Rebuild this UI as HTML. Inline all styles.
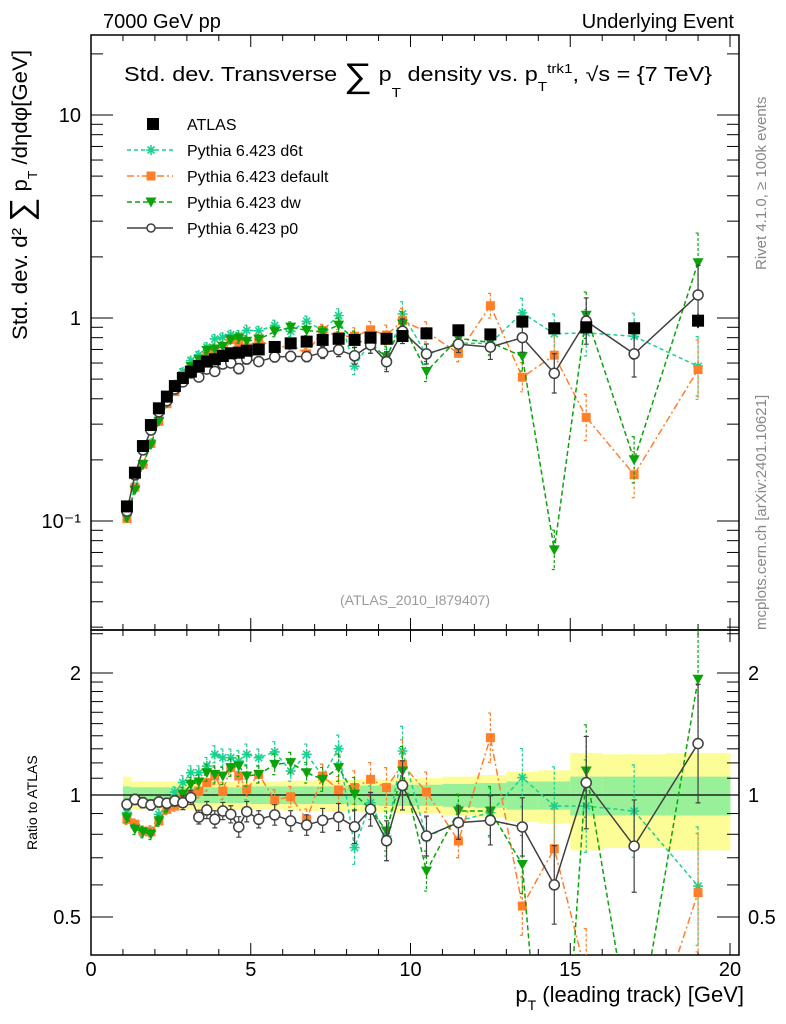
<!DOCTYPE html>
<html><head><meta charset="utf-8">
<style>
html,body{margin:0;padding:0;background:#fff;width:786px;height:1024px;overflow:hidden;}
svg{display:block;font-family:"Liberation Sans",sans-serif;}
</style></head>
<body>
<svg id="chart" width="786" height="1024" viewBox="0 0 786 1024" xmlns="http://www.w3.org/2000/svg">
<defs>
<clipPath id="clipMain"><rect x="91" y="35" width="648" height="595"/></clipPath>
<clipPath id="clipRatio"><rect x="91" y="630" width="648" height="325"/></clipPath>
</defs>
<text x="103" y="28" font-size="20">7000 GeV pp</text>
<text x="734" y="28" font-size="20" text-anchor="end">Underlying Event</text>
<text x="124" y="81" font-size="20" textLength="588" lengthAdjust="spacingAndGlyphs">Std. dev. Transverse <tspan font-size="34" dy="6">∑</tspan><tspan dy="-6"> p</tspan><tspan font-size="13" dy="16">T</tspan><tspan dy="-16"> density vs. p</tspan><tspan font-size="13" dy="10">T</tspan><tspan font-size="13" dy="-18">trk1</tspan><tspan dy="8">, √s = {7 TeV}</tspan></text>
<text transform="translate(27,340) rotate(-90)" font-size="21" textLength="290" lengthAdjust="spacingAndGlyphs">Std. dev. d² <tspan font-size="32" dy="5">∑</tspan><tspan dy="-5"> p</tspan><tspan font-size="13" dy="10">T</tspan><tspan dy="-10"> /dηdφ[GeV]</tspan></text>
<text transform="translate(37,850) rotate(-90)" font-size="14">Ratio to ATLAS</text>
<text transform="translate(766,270) rotate(-90)" font-size="15" fill="#888">Rivet 4.1.0, ≥ 100k events</text>
<text transform="translate(766,630) rotate(-90)" font-size="15" fill="#888">mcplots.cern.ch [arXiv:2401.10621]</text>
<text x="415" y="605" font-size="14" fill="#999" text-anchor="middle">(ATLAS_2010_I879407)</text>
<text x="744" y="1002" font-size="22" text-anchor="end">p<tspan font-size="14" dy="8">T</tspan><tspan dy="-8"> (leading track) [GeV]</tspan></text>
<g id="bands" clip-path="url(#clipRatio)"></g>
<g id="axes"></g>
<g id="mainMarks" clip-path="url(#clipMain)"></g>
<g id="ratioMarks" clip-path="url(#clipRatio)"></g>
<g id="legend"></g>
</svg>
<script>
// ---- data ----
const xCenters=[1.125,1.375,1.625,1.875,2.125,2.375,2.625,2.875,3.125,3.375,3.625,3.875,4.125,4.375,4.625,4.875,5.25,5.75,6.25,6.75,7.25,7.75,8.25,8.75,9.25,9.75,10.5,11.5,12.5,13.5,14.5,15.5,17,19];
const binEdges=[1,1.25,1.5,1.75,2,2.25,2.5,2.75,3,3.25,3.5,3.75,4,4.25,4.5,4.75,5,5.5,6,6.5,7,7.5,8,8.5,9,9.5,10,11,12,13,14,15,16,18,20];
const atlas=[0.118,0.173,0.234,0.297,0.359,0.41,0.462,0.506,0.544,0.58,0.61,0.626,0.65,0.67,0.675,0.69,0.70,0.72,0.75,0.765,0.78,0.79,0.78,0.80,0.79,0.815,0.84,0.87,0.83,0.96,0.89,0.90,0.89,0.97];
const atlasTotErr=[0.11,0.08,0.08,0.08,0.08,0.08,0.08,0.08,0.08,0.08,0.08,0.08,0.08,0.08,0.08,0.08,0.08,0.08,0.085,0.085,0.09,0.09,0.09,0.095,0.095,0.1,0.1,0.11,0.12,0.14,0.15,0.27,0.26,0.27];
const atlasStatErr=[0.05,0.045,0.045,0.045,0.045,0.045,0.045,0.045,0.045,0.045,0.045,0.045,0.045,0.045,0.045,0.045,0.05,0.05,0.05,0.05,0.05,0.05,0.055,0.055,0.06,0.06,0.06,0.065,0.07,0.08,0.08,0.11,0.11,0.11];
const d6tRatio=[0.905,0.847,0.807,0.815,0.896,0.939,1.017,1.073,1.135,1.135,1.179,1.26,1.236,1.236,1.213,1.26,1.236,1.277,1.146,1.26,1.114,1.301,0.742,0.957,0.792,1.284,0.785,0.863,0.905,1.104,0.939,0.939,0.913,0.596];
const defaultRatio=[0.871,0.847,0.815,0.811,0.863,0.922,0.939,0.994,1.01,1.023,1.073,1.114,1.023,1.168,1.114,1.033,1.124,0.972,0.99,0.871,1.114,1.029,1.043,1.093,1.043,1.19,1.017,0.77,1.385,0.532,0.737,0.36,0.19,0.574];
const dwRatio=[0.879,0.823,0.811,0.8,0.863,0.93,0.967,1.004,1.062,1.077,1.135,1.124,1.114,1.168,1.179,1.114,1.124,1.19,1.202,1.135,1.093,1.168,1.004,0.922,0.815,1.146,0.649,0.913,0.913,0.674,0.081,1.146,0.225,1.93];
const p0Ratio=[0.948,0.975,0.957,0.945,0.961,0.954,0.967,0.957,0.985,0.882,0.918,0.871,0.913,0.896,0.834,0.91,0.871,0.893,0.863,0.843,0.866,0.882,0.835,0.922,0.771,1.056,0.792,0.855,0.866,0.834,0.60,1.073,0.748,1.339];
const mcErr=[0.03,0.03,0.03,0.03,0.03,0.03,0.03,0.04,0.04,0.04,0.05,0.05,0.05,0.05,0.06,0.06,0.05,0.06,0.06,0.06,0.07,0.08,0.1,0.1,0.12,0.15,0.12,0.1,0.15,0.18,0.25,0.3,0.3,0.4];
const xTicksMajor=[0,5,10,15,20];
const mainYMajor=[0.1,1,10];
const mainYLabels=["10\u207B\u00B9","1","10"];
const ratioYMajor=[0.5,1,2];
const ratioYLabels=["0.5","1","2"];

// ---- scales ----
const X0=91,XR=739,MT=35,MB=630,RB=955;
function sx(v){return X0+v*31.95;}
function sy(v){return 318-203*Math.log10(v);}
function ry(r){return 795-122*Math.log2(r);}
const NS="http://www.w3.org/2000/svg";
function mk(tag,attrs,parent){const e=document.createElementNS(NS,tag);for(const k in attrs)e.setAttribute(k,attrs[k]);parent.appendChild(e);return e;}
const axes=document.getElementById('axes');
const bands=document.getElementById('bands');
const mainG=document.getElementById('mainMarks');
const ratioG=document.getElementById('ratioMarks');
const legG=document.getElementById('legend');

// bands
for(let i=0;i<xCenters.length;i++){
  const a=sx(binEdges[i]),b=sx(binEdges[i+1]);
  const y1=mk('rect',{x:a,y:ry(1+atlasTotErr[i]),width:b-a+0.5,height:ry(1-atlasTotErr[i])-ry(1+atlasTotErr[i]),fill:'#fdfd98'},bands);
  
  
  const y2=mk('rect',{x:a,y:ry(1+atlasStatErr[i]),width:b-a+0.5,height:ry(1-atlasStatErr[i])-ry(1+atlasStatErr[i]),fill:'#98f098'},bands);
  
  
}
const one=mk('line',{x1:X0,x2:XR,y1:ry(1),y2:ry(1),stroke:'#000','stroke-width':1.3},bands);



// frames
const f1=mk('rect',{x:X0,y:MT,width:XR-X0,height:MB-MT,fill:'none',stroke:'#000','stroke-width':1.5},axes);


const f2=mk('rect',{x:X0,y:MB,width:XR-X0,height:RB-MB,fill:'none',stroke:'#000','stroke-width':1.5},axes);



// x ticks
for(let v=0;v<=20.3;v+=1){
  const maj=(v%5===0);const L=maj?12:6;
  [[MT,1],[MB,-1],[MB,1],[RB,-1]].forEach(([y,d])=>{
    const t=mk('line',{x1:sx(v),x2:sx(v),y1:y,y2:y+d*L,stroke:'#000','stroke-width':1},axes);
    
    
  });
}
xTicksMajor.forEach(v=>{
  const t=mk('text',{x:sx(v),y:976,'font-size':20,'text-anchor':'middle'},axes);
  t.textContent=String(v);
  
  
});
// main y ticks
for(let d=-2;d<=1;d++){for(let m=1;m<=9;m++){
  const v=m*Math.pow(10,d);const y=sy(v);if(y<MT||y>MB)continue;
  const L=m===1?22:12;
  const t1=mk('line',{x1:X0,x2:X0+L,y1:y,y2:y,stroke:'#000','stroke-width':1},axes);
  
  
  const t2=mk('line',{x1:XR,x2:XR-L,y1:y,y2:y,stroke:'#000','stroke-width':1},axes);
  
  
}}
mainYMajor.forEach((v,i)=>{
  const t=mk('text',{x:81,y:sy(v)+7,'font-size':20,'text-anchor':'end'},axes);
  t.textContent=mainYLabels[i];
  
  
});
// ratio y ticks
const rTicks=[0.4,0.5,0.6,0.7,0.8,0.9,1,1.1,1.2,1.3,1.4,1.5,1.6,1.7,1.8,1.9,2,2.5];
rTicks.forEach(v=>{
  const y=ry(v);if(y<MB||y>RB)return;
  const L=(v===0.5||v===1||v===2)?22:12;
  const t1=mk('line',{x1:X0,x2:X0+L,y1:y,y2:y,stroke:'#000','stroke-width':1},axes);
  
  
  const t2=mk('line',{x1:XR,x2:XR-L,y1:y,y2:y,stroke:'#000','stroke-width':1},axes);
  
  
});
ratioYMajor.forEach((v,i)=>{
  const t=mk('text',{x:81,y:ry(v)+7,'font-size':20,'text-anchor':'end'},axes);
  t.textContent=ratioYLabels[i];
  
  
  const t2=mk('text',{x:748,y:ry(v)+7,'font-size':20},axes);
  t2.textContent=ratioYLabels[i];
  
  
});

// markers
function marker(kind,cx,cy,color,g){
  let e;
  if(kind==='sq'){e=mk('rect',{x:cx-6,y:cy-6,width:12,height:12,fill:color},g);}
  else if(kind==='osq'){e=mk('rect',{x:cx-4.5,y:cy-4.5,width:9,height:9,fill:color},g);}
  else if(kind==='tri'){e=mk('path',{d:`M${cx-5.5},${cy-4.5}L${cx+5.5},${cy-4.5}L${cx},${cy+5.5}Z`,fill:color},g);}
  else if(kind==='circ'){e=mk('circle',{cx:cx,cy:cy,r:5,fill:'#fff',stroke:color,'stroke-width':1.5},g);}
  else {e=mk('path',{d:`M${cx-5},${cy}H${cx+5}M${cx},${cy-5}V${cy+5}M${cx-3.5},${cy-3.5}L${cx+3.5},${cy+3.5}M${cx-3.5},${cy+3.5}L${cx+3.5},${cy-3.5}`,stroke:color,'stroke-width':1.6},g);}
  return e;
}
const series=[
  {name:'d6t',ratio:d6tRatio,color:'#1bd18f',dash:'4,3',kind:'ast',label:'Pythia 6.423 d6t'},
  {name:'default',ratio:defaultRatio,color:'#ff7f2a',dash:'7,3,2,3',kind:'osq',label:'Pythia 6.423 default'},
  {name:'dw',ratio:dwRatio,color:'#0aa30a',dash:'5,3',kind:'tri',label:'Pythia 6.423 dw'},
  {name:'p0',ratio:p0Ratio,color:'#404040',dash:'',kind:'circ',label:'Pythia 6.423 p0'}
];
atlas.forEach((v,i)=>{
  const eb=mk('line',{x1:sx(xCenters[i]),x2:sx(xCenters[i]),y1:sy(v*(1+atlasTotErr[i]*0.3)),y2:sy(v*(1-atlasTotErr[i]*0.3)),stroke:'#000','stroke-width':1.5},mainG);
  
  
});
series.forEach(s=>{
  [[mainG,true],[ratioG,false]].forEach(([g,isMain])=>{
    const pts=s.ratio.map((r,i)=>[sx(xCenters[i]),isMain?sy(r*atlas[i]):ry(r)]);
    const pl=mk('polyline',{points:pts.map(p=>p.join(',')).join(' '),fill:'none',stroke:s.color,'stroke-width':1.5,'stroke-dasharray':s.dash},g);
    
    
    s.ratio.forEach((r,i)=>{
      const cx=sx(xCenters[i]);
      const val=isMain?r*atlas[i]:r;
      const f=isMain?sy:ry;
      const hi=f(val*(1+mcErr[i])),lo=f(val/(1+mcErr[i]));
      const eb=mk('path',{d:`M${cx},${hi}V${lo}M${cx-2.5},${hi}H${cx+2.5}M${cx-2.5},${lo}H${cx+2.5}`,stroke:s.color,'stroke-width':1.2,'stroke-dasharray':s.dash?'3,2':''},g);
      
      
      const m=marker(s.kind,cx,f(val),s.color,g);
      
      
    });
  });
});
atlas.forEach((v,i)=>{
  const m=marker('sq',sx(xCenters[i]),sy(v),'#000',mainG);
  
  
});

// legend
const leg0=marker('sq',153,124,'#000',legG);


const lt0=mk('text',{x:187,y:130,'font-size':16},legG);
lt0.textContent='ATLAS';


series.forEach((s,k)=>{
  const y=150+k*26;
  const ln=mk('line',{x1:127,x2:173,y1:y,y2:y,stroke:s.color,'stroke-width':1.5,'stroke-dasharray':s.dash},legG);
  
  
  const m=marker(s.kind,151,y,s.color,legG);
  if(s.kind==='circ')m.setAttribute('r','4');
  
  
  const t=mk('text',{x:187,y:y+6,'font-size':16},legG);
  t.textContent=s.label;
  
  
});
</script>
</body></html>
